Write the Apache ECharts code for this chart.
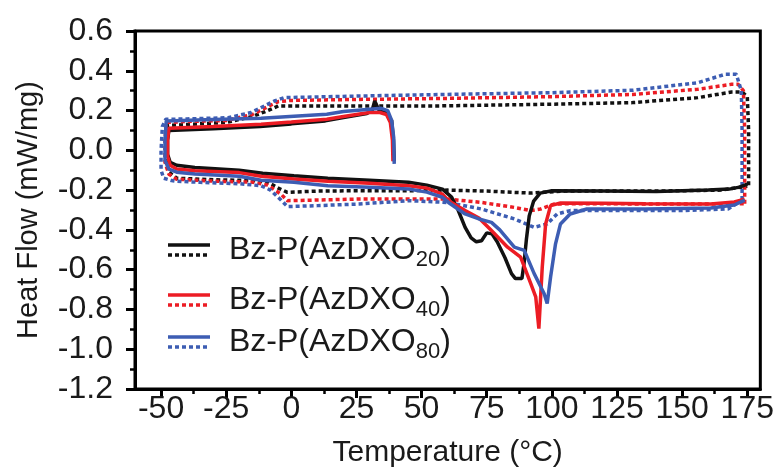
<!DOCTYPE html>
<html>
<head>
<meta charset="utf-8">
<script src="https://cdn.jsdelivr.net/npm/echarts@6/dist/echarts.min.js"></script>
<style>
    html, body { margin: 0; padding: 0; background: #fff; }
    #app { width: 777px; height: 476px; }
</style>
</head>
<body>
<div id="app"></div>
<script>
// 温度轴刻度
let xMajorTicks = [-50, -25, 0, 25, 50, 75, 100, 125, 150, 175];
let xMinorTicks = [-37.5, -12.5, 12.5, 37.5, 62.5, 87.5, 112.5, 137.5, 162.5];

// 图例名称 (下标另写)
let sampleNames = ["Bz-P(AzDXO", "Bz-P(AzDXO", "Bz-P(AzDXO"];
let sampleSubs = ["20", "40", "80"];

// Bz-P(AzDXO20) 实线: 40 -> -48 冷却, 再升温到 175
let bz20Solid = [
    [39.5, -0.055], [39.2, 0.05], [38.5, 0.15], [36, 0.19], [33.5, 0.205], [32, 0.248], [31, 0.2],
    [29, 0.185], [20, 0.165], [13, 0.148], [0, 0.133], [-12, 0.12], [-30, 0.108], [-47, 0.1],
    [-47.5, 0.05], [-47.5, -0.02], [-46.5, -0.06], [-44, -0.075], [-37, -0.086], [-20, -0.1],
    [-11, -0.115], [1, -0.128], [14, -0.14], [30, -0.15], [45, -0.16], [52, -0.175], [58, -0.195],
    [61.5, -0.235], [64, -0.3], [66.7, -0.387], [69, -0.44], [71, -0.46], [73, -0.455], [75, -0.415],
    [77, -0.42], [79, -0.46], [82, -0.54], [84.5, -0.62], [86, -0.645], [88.5, -0.645], [89.3, -0.57],
    [90.2, -0.45], [91.3, -0.33], [93, -0.255], [95.5, -0.215], [100, -0.203], [120, -0.205],
    [140, -0.207], [160, -0.2], [168, -0.195], [172, -0.185], [175, -0.17]
];
// Bz-P(AzDXO20) 虚线: 175 -> -48 冷却, 再升温到 175
let bz20Dash = [
    [175.5, -0.175], [175.5, 0.1], [175, 0.27], [173, 0.293], [169, 0.293], [156, 0.265], [131, 0.24],
    [100, 0.232], [55, 0.223], [20, 0.223], [-5, 0.223], [-9, 0.2], [-15, 0.17], [-25, 0.14],
    [-40, 0.13], [-47.5, 0.125], [-48, 0.05], [-48, -0.05], [-47, -0.11], [-44, -0.14], [-30, -0.148],
    [-15, -0.152], [-9, -0.16], [-5, -0.19], [-1.5, -0.211], [10, -0.205], [26, -0.203], [45, -0.203],
    [60, -0.2], [75, -0.205], [85, -0.211], [92, -0.215], [98, -0.21], [105, -0.205], [140, -0.205],
    [165, -0.2], [175, -0.18]
];
// Bz-P(AzDXO40)
let bz40Solid = [
    [39, -0.055], [38.8, 0.05], [38, 0.14], [36.5, 0.18], [34, 0.19], [30, 0.19], [20, 0.17],
    [13.6, 0.156], [0, 0.142], [-11.6, 0.131], [-30, 0.12], [-47, 0.111], [-47.5, 0.05], [-47.5, -0.03],
    [-46.5, -0.075], [-44, -0.094], [-37, -0.103], [-20, -0.112], [-11.6, -0.13], [1, -0.144],
    [14, -0.155], [30, -0.165], [45, -0.178], [52, -0.19], [58, -0.22], [60.3, -0.253], [66.7, -0.303],
    [72, -0.34], [76.8, -0.403], [83, -0.487], [88, -0.537], [91.9, -0.67], [93.8, -0.737], [95, -0.896],
    [96.3, -0.587], [97.6, -0.37], [99.5, -0.278], [103.3, -0.265], [120, -0.266], [136, -0.268],
    [161, -0.27], [170, -0.26], [174, -0.245]
];
let bz40Dash = [
    [174, -0.268], [174, 0.1], [173.5, 0.3], [171.5, 0.332], [169, 0.332], [156, 0.307], [131, 0.281],
    [100, 0.27], [59, 0.261], [26, 0.256], [0, 0.251], [-5, 0.245], [-9, 0.22], [-15, 0.18], [-25, 0.15],
    [-40, 0.145], [-48, 0.14], [-48.5, 0.05], [-48.5, -0.06], [-47, -0.12], [-44, -0.145], [-30, -0.155],
    [-15, -0.16], [-9, -0.175], [-4, -0.22], [-1.5, -0.253], [10, -0.25], [26, -0.245], [45, -0.245],
    [60, -0.245], [73, -0.262], [85.6, -0.287], [91.9, -0.303], [95.7, -0.295], [100.8, -0.27],
    [110, -0.268], [140, -0.27], [165, -0.27], [174, -0.268]
];
// Bz-P(AzDXO80)
let bz80Solid = [
    [39.5, -0.068], [39.3, 0.064], [38.5, 0.15], [37, 0.2], [34.5, 0.211], [20, 0.195], [13.6, 0.181],
    [-11.6, 0.161], [-30, 0.155], [-48, 0.148], [-48.5, 0.05], [-48.5, -0.05], [-47, -0.095], [-44, -0.11],
    [-37, -0.119], [-20, -0.13], [-11.6, -0.15], [1, -0.161], [14, -0.178], [30, -0.185], [45, -0.194],
    [52, -0.21], [58, -0.236], [60.3, -0.262], [66.7, -0.32], [72, -0.345], [76.8, -0.362], [80, -0.4],
    [85.6, -0.487], [89.4, -0.503], [93.2, -0.62], [97, -0.72], [98.2, -0.77], [99.5, -0.637],
    [101.4, -0.47], [103.3, -0.37], [107, -0.32], [113.4, -0.295], [136, -0.295], [161, -0.29],
    [170, -0.275], [174, -0.25]
];
let bz80Dash = [
    [173, -0.25], [173, 0.1], [172.7, 0.3], [170.8, 0.382], [166.4, 0.382], [156, 0.34], [131, 0.302],
    [100, 0.29], [59, 0.281], [26, 0.273], [-2.8, 0.265], [-6.5, 0.248], [-15.4, 0.19], [-24.2, 0.164],
    [-40, 0.158], [-48.2, 0.156], [-49.5, 0.12], [-50, 0.0], [-50, -0.1], [-49, -0.14], [-46, -0.152],
    [-44.4, -0.155], [-35, -0.161], [-20, -0.168], [-11.6, -0.178], [-8, -0.2], [-4, -0.25],
    [-1.5, -0.283], [10, -0.278], [26, -0.27], [45, -0.253], [60, -0.262], [73, -0.295], [85.6, -0.345],
    [93.2, -0.387], [98.2, -0.37], [102, -0.32], [107, -0.303], [136, -0.303], [150, -0.303],
    [167.6, -0.295], [173, -0.25]
];

let colors = ["#111111", "#ec1c24", "#3d5db3"];
let fontFamily = "'Liberation Sans', Arial, sans-serif";
let textColor = "#1a1a1a";

let makeLine = (name, data, color, dashed) => ({
    name: name,
    type: "line",
    data: data,
    showSymbol: false,
    smooth: false,
    silent: true,
    lineStyle: {
        color: color,
        width: 3.5,
        type: dashed ? [4, 3] : "solid"
    }
});

// 图例: 实线 + 虚线 + 带下标文字
let legendGraphics = [];
let legendTop = [245, 295, 337];
sampleNames.forEach((n, i) => {
    let y = legendTop[i];
    legendGraphics.push({
        type: "line",
        shape: {x1: 168, y1: y, x2: 210, y2: y},
        style: {stroke: colors[i], lineWidth: 3.5}
    });
    legendGraphics.push({
        type: "line",
        shape: {x1: 168, y1: y + 10, x2: 210, y2: y + 10},
        style: {stroke: colors[i], lineWidth: 3.5, lineDash: [4, 3]}
    });
    legendGraphics.push({
        type: "text",
        x: 229,
        y: y + 5,
        style: {
            text: n + "{sub|" + sampleSubs[i] + "}{b|)}",
            fill: textColor,
            font: "32px " + fontFamily,
            verticalAlign: "middle",
            rich: {
                sub: {fontSize: 22, fontFamily: fontFamily, fill: textColor, padding: [20, 0, 0, 0]},
                b: {fontSize: 32, fontFamily: fontFamily, fill: textColor}
            }
        }
    });
});

let myChart = echarts.init(document.querySelector("#app"), null, {renderer: "canvas"});
myChart.setOption({
    animation: false,
    backgroundColor: "#fff",
    textStyle: {fontFamily: fontFamily},
    grid: {
        left: 135, right: 7, top: 31, bottom: 87,
        show: true,
        borderColor: "#000",
        borderWidth: 3
    },
    xAxis: [
        {
            type: "value",
            min: -60,
            max: 180,
            position: "bottom",
            name: "Temperature (°C)",
            nameLocation: "middle",
            nameGap: 49,
            nameTextStyle: {fontSize: 30, color: textColor, fontFamily: fontFamily},
            axisLine: {onZero: false, lineStyle: {color: "#000", width: 3}},
            axisTick: {customValues: xMajorTicks, length: 9, lineStyle: {color: "#000", width: 3}},
            axisLabel: {customValues: xMajorTicks, fontSize: 32, color: textColor, margin: 4, fontFamily: fontFamily},
            splitLine: {show: false}
        },
        {
            type: "value",
            min: -60,
            max: 180,
            position: "bottom",
            axisLine: {show: false, onZero: false},
            axisTick: {customValues: xMinorTicks, length: 5, lineStyle: {color: "#000", width: 2.5}},
            axisLabel: {show: false},
            splitLine: {show: false}
        }
    ],
    yAxis: {
        type: "value",
        min: -1.2,
        max: 0.6,
        interval: 0.2,
        name: "Heat Flow (mW/mg)",
        nameLocation: "middle",
        nameGap: 92,
        nameTextStyle: {fontSize: 29, color: textColor, fontFamily: fontFamily},
        axisLine: {show: true, onZero: false, lineStyle: {color: "#000", width: 3}},
        axisTick: {show: true, length: 9, lineStyle: {color: "#000", width: 3}},
        minorTick: {show: true, splitNumber: 2, length: 5, lineStyle: {color: "#000", width: 2.5}},
        axisLabel: {
            fontSize: 32,
            color: textColor,
            margin: 22,
            fontFamily: fontFamily,
            formatter: (v) => v.toFixed(1)
        },
        splitLine: {show: false}
    },
    series: [
        makeLine("Bz-P(AzDXO20) 2nd", bz20Dash, colors[0], true),
        makeLine("Bz-P(AzDXO40) 2nd", bz40Dash, colors[1], true),
        makeLine("Bz-P(AzDXO80) 2nd", bz80Dash, colors[2], true),
        makeLine("Bz-P(AzDXO20)", bz20Solid, colors[0], false),
        makeLine("Bz-P(AzDXO40)", bz40Solid, colors[1], false),
        makeLine("Bz-P(AzDXO80)", bz80Solid, colors[2], false)
    ],
    graphic: legendGraphics
});
</script>
</body>
</html>
